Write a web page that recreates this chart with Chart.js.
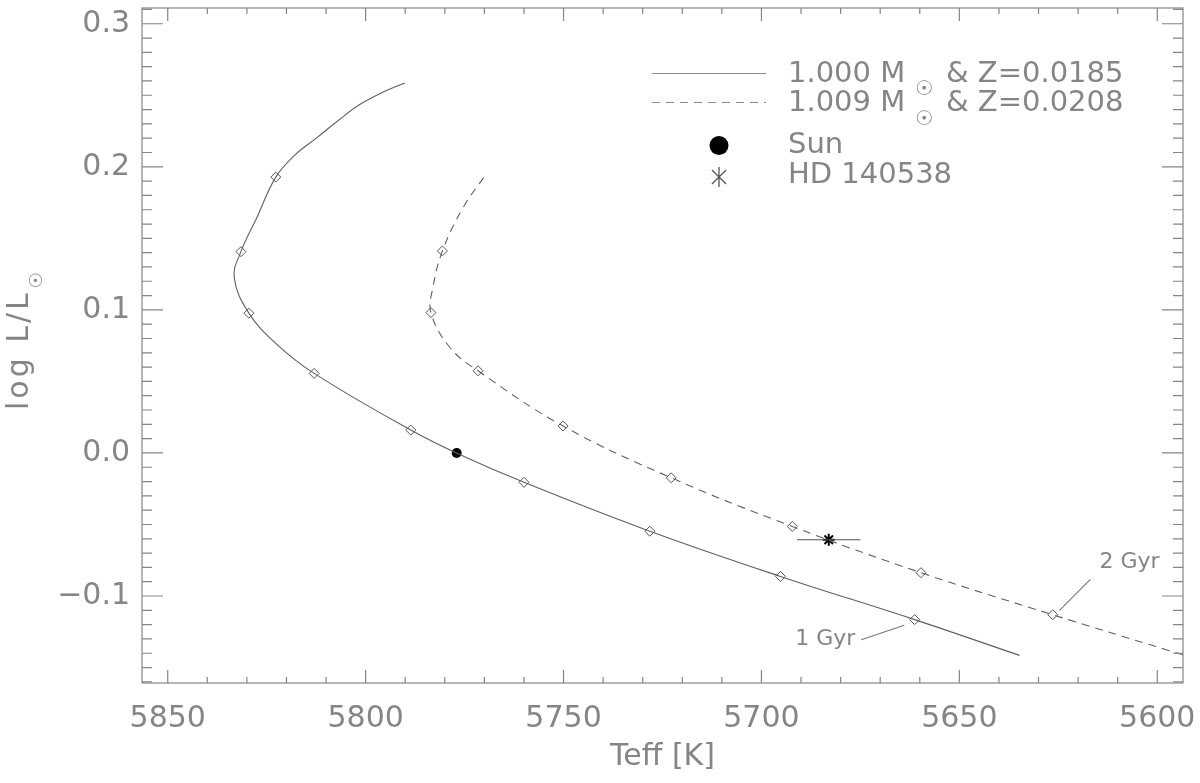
<!DOCTYPE html>
<html>
<head>
<meta charset="utf-8">
<script src="https://cdn.jsdelivr.net/npm/chart.js@4.4.1/dist/chart.umd.min.js"></script>
<style>
  html, body { margin: 0; padding: 0; background: #fff; }
  #wrap { width: 1200px; height: 783px; }
</style>
</head>
<body>
<div id="wrap"><canvas id="hrChart" width="1200" height="783"></canvas></div>
<script>
// evolutionary track, 1.000 Msun & Z=0.0185 (ZAMS at lower right)
const trackATeff = [5634.8, 5661.3, 5695.2, 5728.2, 5760.0, 5777.1, 5788.6, 5813.0, 5822.5, 5829.5, 5833.2, 5831.5, 5827.5, 5822.7, 5817.9, 5812.4, 5807.0, 5801.5, 5795.7, 5790.1];
const trackALogL = [-0.1415, -0.1165, -0.0863, -0.0547, -0.0205, 0.0, 0.0160, 0.0556, 0.0761, 0.0977, 0.1225, 0.1407, 0.1644, 0.1928, 0.2082, 0.2202, 0.2322, 0.2435, 0.2521, 0.2586];
// age markers on track A (diamonds)
const markATeff = [5661.3, 5695.2, 5728.2, 5760.0, 5788.6, 5813.0, 5829.5, 5831.5, 5822.7];
const markALogL = [-0.1165, -0.0863, -0.0547, -0.0205, 0.0160, 0.0556, 0.0977, 0.1407, 0.1928];

// evolutionary track, 1.009 Msun & Z=0.0208
const trackBTeff = [5593.5, 5597.8, 5626.4, 5659.7, 5692.2, 5722.8, 5750.1, 5771.6, 5778.7, 5783.5, 5783.0, 5780.6, 5775.4, 5769.5];
const trackBLogL = [-0.1410, -0.1375, -0.1131, -0.0837, -0.0514, -0.0174, 0.0188, 0.0574, 0.0737, 0.0981, 0.1156, 0.1412, 0.1714, 0.1951];
const markBTeff = [5626.4, 5659.7, 5692.2, 5722.8, 5750.1, 5771.6, 5783.5, 5780.6];
const markBLogL = [-0.1131, -0.0837, -0.0514, -0.0174, 0.0188, 0.0574, 0.0981, 0.1412];

// stars
const sunTeff = 5777, sunLogL = 0.0;
const hdTeff = 5683, hdLogL = -0.0607, hdTeffErr = 8;

// age labels with leader lines
const gyrLabels = ['1 Gyr', '2 Gyr'];
const gyrTextTeff = [5676.3, 5614.6];
const gyrTextLogL = [-0.1300, -0.0763];
const gyrLineTeff = [[5674.8, 5663.9], [5624.7, 5616.9]];
const gyrLineLogL = [[-0.1305, -0.1205], [-0.1100, -0.0884]];

// axes
const xTickValues = [5850, 5800, 5750, 5700, 5650, 5600];
const yTickValues = [-0.1, 0.0, 0.1, 0.2, 0.3];
const legendLabels = ['1.000 M', '& Z=0.0185', '1.009 M', '& Z=0.0208', 'Sun', 'HD 140538'];

const textColor = '#858585';
const axisColor = '#858585';
const lineColor = '#606060';
const fontFamily = "'DejaVu Sans', sans-serif";

function pts(xs, ys) {
    return xs.map((x, i) => ({ x: x, y: ys[i] }));
}

const framePlugin = {
    id: 'idlFrame',
    afterDraw(chart) {
        const ctx = chart.ctx;
        const a = chart.chartArea;
        const xs = chart.scales.x;
        const ys = chart.scales.y;
        ctx.save();
        ctx.strokeStyle = axisColor;
        ctx.lineWidth = 1.2;
        ctx.strokeRect(a.left, a.top, a.right - a.left, a.bottom - a.top);

        // inward ticks on all four sides
        ctx.beginPath();
        for (let k = Math.ceil(xs.min / 10); k <= Math.floor(xs.max / 10); k++) {
            const px = xs.getPixelForValue(k * 10);
            const len = k % 5 === 0 ? 13 : 6;
            ctx.moveTo(px, a.bottom); ctx.lineTo(px, a.bottom - len);
            ctx.moveTo(px, a.top); ctx.lineTo(px, a.top + len);
        }
        for (let k = Math.ceil(ys.min * 100 - 1e-6); k <= Math.floor(ys.max * 100 + 1e-6); k++) {
            const py = ys.getPixelForValue(k / 100);
            const len = k % 10 === 0 ? 21 : 10;
            ctx.moveTo(a.left, py); ctx.lineTo(a.left + len, py);
            ctx.moveTo(a.right, py); ctx.lineTo(a.right - len, py);
        }
        ctx.stroke();

        // y axis title with subscript sun symbol
        ctx.fillStyle = textColor;
        ctx.save();
        ctx.translate(28, 410);
        ctx.rotate(-Math.PI / 2);
        ctx.font = '30px ' + fontFamily;
        ctx.textAlign = 'left';
        ctx.textBaseline = 'alphabetic';
        ctx.letterSpacing = '3px';
        ctx.fillText('log L/L', 0, 0);
        const w = ctx.measureText('log L/L').width;
        ctx.letterSpacing = '0px';
        ctx.font = '18px ' + fontFamily;
        ctx.textBaseline = 'middle';
        ctx.fillText('\u2609', w + 2, 9);
        ctx.restore();

        // age labels
        ctx.font = '22px ' + fontFamily;
        ctx.textBaseline = 'middle';
        gyrLabels.forEach((lab, i) => {
            ctx.textAlign = i === 0 ? 'right' : 'left';
            ctx.fillText(lab, xs.getPixelForValue(gyrTextTeff[i]), ys.getPixelForValue(gyrTextLogL[i]));
        });

        // legend
        ctx.strokeStyle = '#8a8a8a';
        ctx.lineWidth = 1.2;
        ctx.beginPath();
        ctx.moveTo(652, 73.5); ctx.lineTo(766, 73.5);
        ctx.stroke();
        ctx.setLineDash([8, 6]);
        ctx.beginPath();
        ctx.moveTo(652, 102.5); ctx.lineTo(766, 102.5);
        ctx.stroke();
        ctx.setLineDash([]);

        ctx.font = '29px ' + fontFamily;
        ctx.textAlign = 'left';
        ctx.textBaseline = 'alphabetic';
        ctx.fillText(legendLabels[0], 788, 82);
        ctx.fillText(legendLabels[1], 946, 82);
        ctx.fillText(legendLabels[2], 788, 111);
        ctx.fillText(legendLabels[3], 946, 111);
        ctx.fillText(legendLabels[4], 788, 153);
        ctx.fillText(legendLabels[5], 788, 183);
        ctx.font = '20px ' + fontFamily;
        ctx.textAlign = 'center';
        ctx.textBaseline = 'middle';
        ctx.fillText('\u2609', 924, 90);
        ctx.fillText('\u2609', 924, 120);

        ctx.fillStyle = '#000';
        ctx.beginPath();
        ctx.arc(719, 145.5, 9.5, 0, Math.PI * 2);
        ctx.fill();
        ctx.strokeStyle = '#555';
        ctx.lineWidth = 1.3;
        ctx.beginPath();
        const cx = 719, cy = 177, r = 10, d = r * Math.SQRT1_2;
        ctx.moveTo(cx, cy - r); ctx.lineTo(cx, cy + r);
        ctx.moveTo(cx - d, cy - d); ctx.lineTo(cx + d, cy + d);
        ctx.moveTo(cx + d, cy - d); ctx.lineTo(cx - d, cy + d);
        ctx.stroke();
        ctx.restore();
    }
};

const datasets = [
    {
        label: '1.000 Msun & Z=0.0185', data: pts(trackATeff, trackALogL), showLine: true,
        borderColor: lineColor, borderWidth: 1.1, pointRadius: 0, tension: 0.4
    },
    {
        label: '1.009 Msun & Z=0.0208', data: pts(trackBTeff, trackBLogL), showLine: true,
        borderColor: lineColor, borderWidth: 1.1, borderDash: [8, 6], pointRadius: 0, tension: 0.4
    },
    {
        label: 'age A', data: pts(markATeff, markALogL), pointStyle: 'rectRot',
        pointRadius: 5, backgroundColor: '#fff', borderColor: '#555', borderWidth: 1
    },
    {
        label: 'age B', data: pts(markBTeff, markBLogL), pointStyle: 'rectRot',
        pointRadius: 5, backgroundColor: '#fff', borderColor: '#555', borderWidth: 1
    },
    {
        label: '1 Gyr line', data: pts(gyrLineTeff[0], gyrLineLogL[0]), showLine: true,
        borderColor: '#777', borderWidth: 1.1, pointRadius: 0
    },
    {
        label: '2 Gyr line', data: pts(gyrLineTeff[1], gyrLineLogL[1]), showLine: true,
        borderColor: '#777', borderWidth: 1.1, pointRadius: 0
    },
    {
        label: 'HD err', data: pts([hdTeff - hdTeffErr, hdTeff + hdTeffErr], [hdLogL, hdLogL]), showLine: true,
        borderColor: '#555', borderWidth: 1.1, pointRadius: 0
    },
    {
        label: 'Sun', data: pts([sunTeff], [sunLogL]), pointStyle: 'circle',
        pointRadius: 5, backgroundColor: '#000', borderColor: '#000', borderWidth: 0
    },
    {
        label: 'HD 140538', data: pts([hdTeff], [hdLogL]), pointStyle: 'star',
        pointRadius: 6, backgroundColor: '#000', borderColor: '#000', borderWidth: 2
    }
];

new Chart(document.getElementById('hrChart').getContext('2d'), {
    type: 'scatter',
    data: { datasets: datasets },
    options: {
        responsive: false,
        animation: false,
        devicePixelRatio: 1,
        layout: { padding: { top: 7, right: 17, left: 0, bottom: 0 } },
        plugins: {
            legend: { display: false },
            tooltip: { enabled: false }
        },
        scales: {
            x: {
                type: 'linear',
                reverse: true,
                min: 5593.5,
                max: 5856.5,
                grid: { display: false, drawTicks: false },
                border: { display: false },
                afterFit: s => { s.height = 100; s.paddingLeft = 0; s.paddingRight = 0; },
                afterBuildTicks: s => { s.ticks = xTickValues.map(v => ({ value: v })); },
                ticks: {
                    color: textColor,
                    font: { family: fontFamily, size: 30 },
                    padding: 18,
                    maxRotation: 0,
                    autoSkip: false,
                    callback: v => String(v)
                },
                title: {
                    display: true,
                    text: 'Teff [K]',
                    color: textColor,
                    font: { family: fontFamily, size: 30 },
                    padding: { top: 0, bottom: 8 }
                }
            },
            y: {
                type: 'linear',
                min: -0.1608,
                max: 0.311,
                grid: { display: false, drawTicks: false },
                border: { display: false },
                afterFit: s => { s.width = 142; s.paddingTop = 0; s.paddingBottom = 0; },
                afterBuildTicks: s => { s.ticks = yTickValues.map(v => ({ value: v })); },
                ticks: {
                    color: textColor,
                    font: { family: fontFamily, size: 30 },
                    padding: 12,
                    autoSkip: false,
                    callback: v => Math.abs(v) < 1e-9 ? '0.0' : (v < 0 ? '\u2212' + Math.abs(v).toFixed(1) : v.toFixed(1))
                }
            }
        }
    },
    plugins: [framePlugin]
});
</script>
</body>
</html>
